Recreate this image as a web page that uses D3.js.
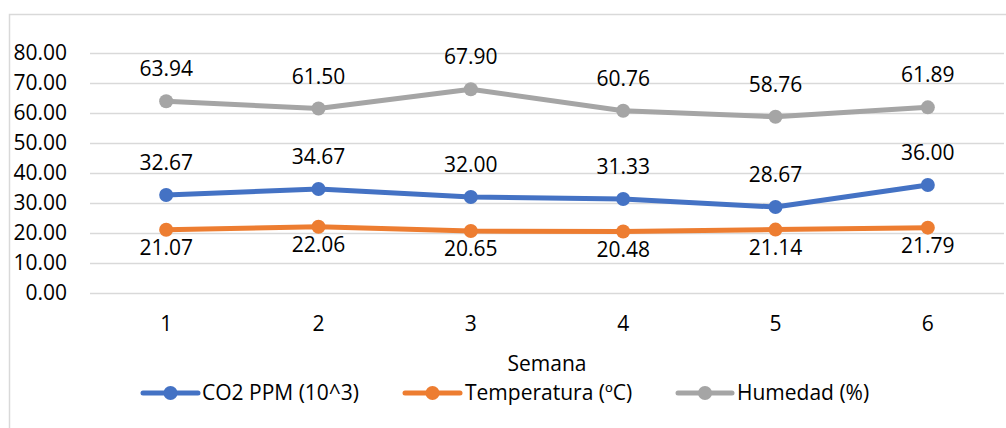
<!DOCTYPE html>
<html>
<head>
<meta charset="utf-8">
<script src="https://cdn.jsdelivr.net/npm/d3@7.9.0/dist/d3.min.js"></script>
<style>
  body { margin: 0; background: #fff; }
  svg { display: block; font-family: "Open Sans", sans-serif; }
</style>
</head>
<body>
<svg id="chart" width="1006" height="428"></svg>
<script>
// chart data
const weeks = ["1", "2", "3", "4", "5", "6"];
const co2 = [32.67, 34.67, 32.00, 31.33, 28.67, 36.00];
const temperatura = [21.07, 22.06, 20.65, 20.48, 21.14, 21.79];
const humedad = [63.94, 61.50, 67.90, 60.76, 58.76, 61.89];
const yTicks = [0, 10, 20, 30, 40, 50, 60, 70, 80];

const series = [
  { name: "CO2 PPM (10^3)", values: co2, color: "#4472C4", labelPos: "above" },
  { name: "Temperatura (ºC)", values: temperatura, color: "#ED7D31", labelPos: "below" },
  { name: "Humedad (%)", values: humedad, color: "#A5A5A5", labelPos: "above" }
];

const svg = d3.select("#chart");
const plotLeft = 90, plotRight = 1004, plotTop = 53, plotBottom = 293;
const fs = 21;

// outer frame
svg.append("rect")
  .attr("x", 9.5).attr("y", 14.5)
  .attr("width", 1000).attr("height", 430)
  .attr("fill", "none").attr("stroke", "#d9d9d9").attr("stroke-width", 1.5);

const x = d3.scaleBand().domain(weeks).range([plotLeft, plotRight]);
const y = d3.scaleLinear().domain([0, 80]).range([plotBottom, plotTop]);

// gridlines
svg.append("g").selectAll("line")
  .data(yTicks)
  .enter().append("line")
  .attr("x1", plotLeft).attr("x2", plotRight)
  .attr("y1", d => y(d) + 0.5).attr("y2", d => y(d) + 0.5)
  .attr("stroke", "#d9d9d9").attr("stroke-width", 1.5);

// y axis labels
const yAxis = svg.append("g")
  .attr("transform", `translate(${plotLeft - 23}, 0)`)
  .call(d3.axisLeft(y).tickValues(yTicks).tickFormat(d3.format(".2f")).tickSize(0).tickPadding(0));
yAxis.select(".domain").remove();
yAxis.selectAll("text").attr("font-size", fs).attr("fill", "#000").attr("font-family", "Open Sans, sans-serif");

// x axis labels
const xAxis = svg.append("g")
  .attr("transform", `translate(0, ${plotBottom + 19})`)
  .call(d3.axisBottom(x).tickSize(0).tickPadding(0));
xAxis.select(".domain").remove();
xAxis.selectAll("text").attr("font-size", fs).attr("fill", "#000").attr("dy", "0.9em").attr("font-family", "Open Sans, sans-serif");

// axis title
svg.append("text")
  .attr("x", 547).attr("y", 371)
  .attr("text-anchor", "middle").attr("font-size", fs)
  .text("Semana");

const cx = d => x(d) + x.bandwidth() / 2;
const line = d3.line().x((d, i) => cx(weeks[i])).y(d => y(d));

series.forEach(s => {
  svg.append("path")
    .datum(s.values)
    .attr("d", line)
    .attr("fill", "none")
    .attr("stroke", s.color)
    .attr("stroke-width", 5)
    .attr("stroke-linejoin", "round")
    .attr("stroke-linecap", "round");

  svg.append("g").selectAll("circle")
    .data(s.values)
    .enter().append("circle")
    .attr("cx", (d, i) => cx(weeks[i]))
    .attr("cy", d => y(d))
    .attr("r", 7)
    .attr("fill", s.color);

  svg.append("g").selectAll("text")
    .data(s.values)
    .enter().append("text")
    .attr("x", (d, i) => cx(weeks[i]))
    .attr("y", d => s.labelPos === "above" ? y(d) - 25 : y(d) + 25)
    .attr("text-anchor", "middle")
    .attr("font-size", fs)
    .attr("fill", "#000")
    .text(d => d.toFixed(2));
});

// legend
const legendItems = [
  { x1: 143, x2: 198, textX: 202 },
  { x1: 405, x2: 460, textX: 465 },
  { x1: 678, x2: 732, textX: 737 }
];
const legendY = 393;
series.forEach((s, i) => {
  const it = legendItems[i];
  const g = svg.append("g");
  g.append("line")
    .attr("x1", it.x1).attr("x2", it.x2)
    .attr("y1", legendY).attr("y2", legendY)
    .attr("stroke", s.color).attr("stroke-width", 5).attr("stroke-linecap", "round");
  g.append("circle")
    .attr("cx", (it.x1 + it.x2) / 2).attr("cy", legendY).attr("r", 7)
    .attr("fill", s.color);
  g.append("text")
    .attr("x", it.textX).attr("y", legendY)
    .attr("dy", "0.35em").attr("font-size", fs).attr("fill", "#000")
    .text(s.name);
});
</script>
</body>
</html>
